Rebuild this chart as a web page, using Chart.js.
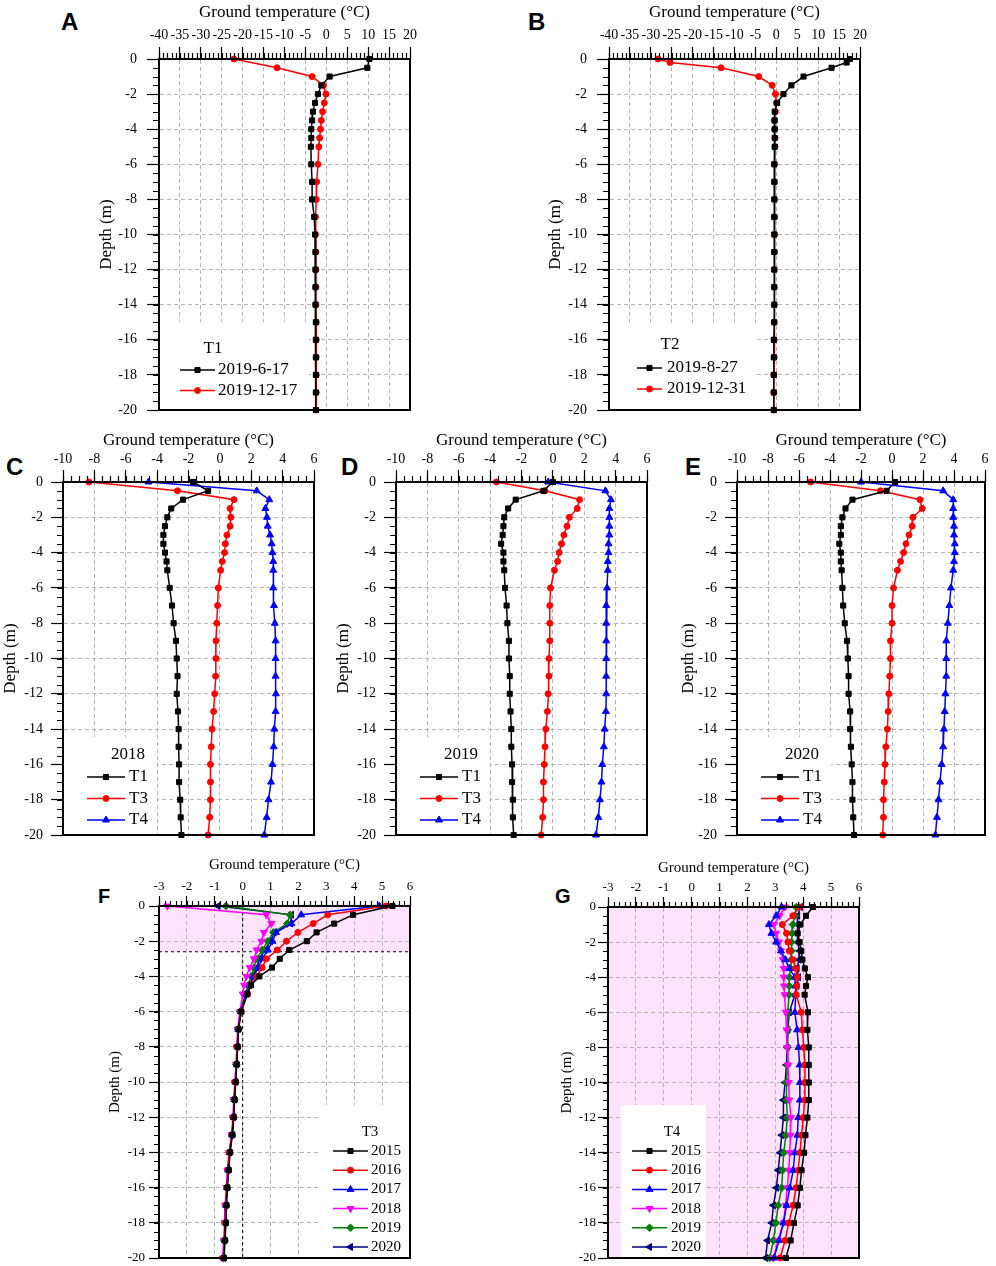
<!DOCTYPE html>
<html>
<head>
<meta charset="utf-8">
<script src="https://cdn.jsdelivr.net/npm/chart.js@4.4.1/dist/chart.umd.min.js"></script>
<style>
  body { margin: 0; background: #fff; }
  #fig { position: relative; width: 996px; height: 1266px; overflow: hidden; }
  #fig canvas { position: absolute; }
  .tag { position: absolute; font-family: "Liberation Sans", Arial, sans-serif; font-weight: bold; color: #000; }
</style>
</head>
<body>
<div id="fig">
  <div class="tag" style="left:61px;top:10px;font-size:24px;line-height:24px">A</div>
  <div class="tag" style="left:528px;top:10px;font-size:24px;line-height:24px">B</div>
  <div class="tag" style="left:6px;top:455px;font-size:24px;line-height:24px">C</div>
  <div class="tag" style="left:341px;top:455px;font-size:24px;line-height:24px">D</div>
  <div class="tag" style="left:685px;top:455px;font-size:24px;line-height:24px">E</div>
  <div class="tag" style="left:98px;top:886px;font-size:20px;line-height:20px">F</div>
  <div class="tag" style="left:555px;top:886px;font-size:20px;line-height:20px">G</div>
</div>
<script>
// depth of each sensor (m)
const depth = [0, -0.5, -1, -1.5, -2, -2.5, -3, -3.5, -4, -4.5, -5, -6, -7, -8, -9, -10, -11, -12, -13, -14, -15, -16, -17, -18, -19, -20];
const depthB = [0, -0.2, -0.5, -1, -1.5, -2, -2.5, -3, -3.5, -4, -4.5, -5, -6, -7, -8, -9, -10, -11, -12, -13, -14, -15, -16, -17, -18, -19, -20];

// x axis: [min, max, label step, minor step]
const rangeAB = [-40, 20, 5, 1];
const rangeCDE = [-10, 6, 2, 0.5];
const rangeFG = [-3, 6, 1, 0.2];
const rangeDepth = [-20, 0, 2, 0.5];

// A: T1
const datesA = ['2019-6-17', '2019-12-17'];
const aJun17 = [10.3, 9.8, 0.8, -1.2, -2.0, -2.7, -3.2, -3.4, -3.6, -3.6, -3.7, -3.6, -3.4, -3.4, -2.9, -2.7, -2.6, -2.6, -2.6, -2.6, -2.5, -2.5, -2.5, -2.5, -2.5, -2.5];
const aDec17 = [-22.1, -11.8, -3.4, -0.7, -0.1, -0.5, -0.9, -1.2, -1.4, -1.6, -1.8, -2.0, -2.3, -2.4, -2.6, -2.6, -2.5, -2.5, -2.5, -2.5, -2.4, -2.4, -2.4, -2.4, -2.4, -2.4];

// B: T2
const datesB = ['2019-8-27', '2019-12-31'];
const bAug27 = [17.6, 16.8, 13.2, 6.5, 3.6, 1.7, 0.2, -0.4, -0.4, -0.4, -0.4, -0.4, -0.5, -0.5, -0.5, -0.5, -0.5, -0.5, -0.5, -0.5, -0.5, -0.5, -0.6, -0.6, -0.6, -0.6, -0.6];
const bDec31 = [-28.3, -25.4, -13.2, -4.2, -1.0, -0.2, 0.0, -0.2, -0.5, -0.4, -0.3, -0.3, -0.4, -0.4, -0.4, -0.4, -0.4, -0.4, -0.5, -0.5, -0.5, -0.5, -0.5, -0.5, -0.6, -0.6, -0.6];

// C, D, E: boreholes by year
const wells = ['T1', 'T3', 'T4'];
const c18T1 = [-1.7, -0.75, -2.35, -3.1, -3.35, -3.5, -3.6, -3.6, -3.5, -3.4, -3.35, -3.2, -3.05, -2.95, -2.8, -2.75, -2.7, -2.75, -2.67, -2.63, -2.63, -2.6, -2.6, -2.53, -2.5, -2.45];
const c18T3 = [-8.35, -2.7, 0.9, 0.65, 0.7, 0.65, 0.45, 0.35, 0.3, 0.15, 0.05, -0.1, -0.15, -0.2, -0.25, -0.25, -0.27, -0.33, -0.4, -0.5, -0.55, -0.6, -0.6, -0.6, -0.65, -0.75];
const c18T4 = [-4.55, 2.35, 3.15, 2.9, 3.0, 3.05, 3.2, 3.3, 3.35, 3.4, 3.4, 3.4, 3.45, 3.5, 3.55, 3.55, 3.55, 3.57, 3.55, 3.47, 3.43, 3.35, 3.26, 3.1, 2.98, 2.83];
const d19T1 = [0.0, -0.6, -2.37, -2.85, -3.1, -3.15, -3.2, -3.3, -3.15, -3.15, -3.1, -3.05, -2.95, -2.9, -2.8, -2.8, -2.75, -2.75, -2.7, -2.65, -2.65, -2.6, -2.6, -2.55, -2.55, -2.5];
const d19T3 = [-3.6, -0.5, 1.7, 1.55, 1.05, 0.9, 0.7, 0.55, 0.4, 0.3, 0.1, -0.15, -0.2, -0.2, -0.2, -0.25, -0.25, -0.3, -0.35, -0.45, -0.5, -0.55, -0.6, -0.6, -0.65, -0.75];
const d19T4 = [-0.3, 3.35, 3.7, 3.6, 3.6, 3.6, 3.6, 3.55, 3.55, 3.5, 3.5, 3.45, 3.4, 3.4, 3.4, 3.4, 3.4, 3.4, 3.38, 3.3, 3.25, 3.15, 3.1, 3.0, 2.9, 2.75];
const e20T1 = [0.2, -0.35, -2.55, -3.0, -3.2, -3.3, -3.3, -3.4, -3.3, -3.3, -3.25, -3.2, -3.15, -3.05, -2.9, -2.85, -2.8, -2.8, -2.7, -2.7, -2.65, -2.6, -2.55, -2.55, -2.5, -2.45];
const e20T3 = [-5.25, -0.75, 1.8, 1.95, 1.35, 1.3, 1.1, 0.9, 0.75, 0.55, 0.35, 0.1, 0.0, 0.0, -0.1, -0.1, -0.15, -0.2, -0.25, -0.3, -0.4, -0.45, -0.5, -0.55, -0.55, -0.6];
const e20T4 = [-2.0, 3.3, 3.95, 3.95, 3.95, 4.0, 4.0, 4.05, 4.05, 4.0, 3.95, 3.8, 3.7, 3.6, 3.5, 3.5, 3.5, 3.45, 3.4, 3.35, 3.3, 3.2, 3.1, 3.0, 2.9, 2.8];

// F: T3, G: T4, yearly profiles
const years = ['2015', '2016', '2017', '2018', '2019', '2020'];
const activeLayerT3 = -2.6;
const t3y2015 = [5.37, 3.96, 3.28, 2.65, 2.3, 1.67, 1.33, 1.05, 0.6, 0.3, 0.17, -0.05, -0.15, -0.18, -0.21, -0.25, -0.29, -0.32, -0.37, -0.45, -0.5, -0.55, -0.58, -0.6, -0.63, -0.67];
const t3y2016 = [5.14, 3.05, 2.53, 1.98, 1.57, 1.24, 0.85, 0.7, 0.5, 0.28, 0.17, -0.06, -0.15, -0.19, -0.22, -0.26, -0.3, -0.33, -0.38, -0.47, -0.52, -0.56, -0.6, -0.62, -0.65, -0.69];
const t3y2017 = [4.9, 2.1, 1.75, 1.2, 1.07, 0.9, 0.7, 0.55, 0.4, 0.25, 0.13, -0.07, -0.16, -0.19, -0.22, -0.26, -0.3, -0.33, -0.38, -0.47, -0.52, -0.56, -0.6, -0.62, -0.65, -0.69];
const t3y2018 = [-2.7, 0.85, 1.03, 0.76, 0.67, 0.5, 0.4, 0.25, 0.13, 0.05, 0.0, -0.1, -0.18, -0.21, -0.24, -0.28, -0.32, -0.35, -0.4, -0.49, -0.55, -0.59, -0.63, -0.65, -0.68, -0.72];
const t3y2019 = [-0.6, 1.7, 1.6, 1.1, 0.9, 0.7, 0.5, 0.4, 0.3, 0.2, 0.1, -0.08, -0.16, -0.19, -0.22, -0.26, -0.3, -0.33, -0.38, -0.47, -0.52, -0.56, -0.6, -0.62, -0.65, -0.69];
const t3y2020 = [-0.88, 1.75, 1.72, 1.13, 1.0, 0.8, 0.6, 0.5, 0.37, 0.25, 0.13, -0.08, -0.16, -0.19, -0.22, -0.26, -0.3, -0.33, -0.38, -0.47, -0.52, -0.56, -0.6, -0.62, -0.65, -0.69];
const t4y2015 = [4.35, 4.1, 3.9, 3.8, 3.87, 3.93, 3.97, 4.06, 4.17, 4.1, 4.05, 4.17, 4.15, 4.2, 4.2, 4.2, 4.2, 4.15, 4.08, 4.03, 3.94, 3.88, 3.8, 3.67, 3.55, 3.38];
const t4y2016 = [3.87, 3.63, 3.25, 3.4, 3.45, 3.5, 3.63, 3.73, 3.79, 3.77, 3.75, 3.93, 3.97, 4.02, 4.06, 4.06, 4.06, 4.0, 3.94, 3.88, 3.82, 3.74, 3.64, 3.48, 3.35, 3.17];
const t4y2017 = [3.22, 3.03, 2.77, 2.86, 3.03, 3.2, 3.36, 3.5, 3.7, 3.72, 3.73, 3.7, 3.78, 3.83, 3.87, 3.88, 3.88, 3.82, 3.79, 3.7, 3.64, 3.52, 3.4, 3.29, 3.13, 2.95];
const t4y2018 = [3.35, 3.15, 2.95, 3.03, 3.13, 3.2, 3.27, 3.3, 3.3, 3.31, 3.33, 3.37, 3.4, 3.42, 3.45, 3.48, 3.5, 3.56, 3.54, 3.52, 3.48, 3.43, 3.37, 3.29, 3.1, 2.93];
const t4y2019 = [3.75, 3.7, 3.63, 3.6, 3.58, 3.58, 3.58, 3.55, 3.5, 3.5, 3.49, 3.45, 3.45, 3.44, 3.44, 3.4, 3.4, 3.43, 3.38, 3.3, 3.26, 3.23, 3.1, 3.02, 2.93, 2.8];
const t4y2020 = [3.9, 3.8, 3.8, 3.78, 3.8, 3.87, 3.85, 3.78, 3.83, 3.77, 3.7, 3.5, 3.45, 3.42, 3.4, 3.35, 3.29, 3.29, 3.23, 3.17, 3.1, 3.04, 2.93, 2.87, 2.72, 2.65];

// ---------------------------------------------------------------

const serif = "'Liberation Serif', 'Times New Roman', serif";
const marks = [
  { color: '#000000', pointStyle: 'rect', radius: 3.6, rotation: 0 },
  { color: '#ff0000', pointStyle: 'circle', radius: 3, rotation: 0 },
  { color: '#0000ff', pointStyle: 'triangle', radius: 4, rotation: 0 },
  { color: '#ff00ff', pointStyle: 'triangle', radius: 4, rotation: 180 },
  { color: '#008000', pointStyle: 'rectRot', radius: 3.8, rotation: 0 },
  { color: '#000080', pointStyle: 'triangle', radius: 4, rotation: -90 }
];
const pink = '#ffe2fd';
const fig = document.getElementById('fig');

function deco(p) {
  return {
    id: 'deco',
    beforeDraw(chart) {
      const { ctx, chartArea: a, scales: { y } } = chart;
      ctx.save();
      (p.bands || []).forEach(b => {
        const y0 = y.getPixelForValue(b[0]), y1 = y.getPixelForValue(b[1]);
        ctx.fillStyle = pink;
        ctx.fillRect(a.left, y0, a.right - a.left, y1 - y0);
      });
      ctx.restore();
    },
    beforeDatasetsDraw(chart) {
      const { ctx, chartArea: a, scales: { x, y } } = chart;
      ctx.save();
      ctx.strokeStyle = '#000';
      ctx.lineWidth = 1;
      ctx.setLineDash([3, 3]);
      if (p.refY !== undefined) {
        const py = y.getPixelForValue(p.refY);
        ctx.beginPath(); ctx.moveTo(a.left, py); ctx.lineTo(a.right, py); ctx.stroke();
      }
      if (p.refX !== undefined) {
        const px = x.getPixelForValue(p.refX);
        ctx.beginPath(); ctx.moveTo(px, a.top); ctx.lineTo(px, a.bottom); ctx.stroke();
      }
      const bx = p.legend.box;
      ctx.fillStyle = '#fff';
      ctx.fillRect(a.left + bx[0], a.bottom + bx[2], bx[1] - bx[0], -bx[2]);
      ctx.restore();
    },
    afterDatasetsDraw(chart) {
      const { ctx, chartArea: a, scales: { x, y } } = chart;
      ctx.save();
      // minor ticks
      ctx.strokeStyle = '#000';
      ctx.lineWidth = 1.2;
      const nx = Math.round((p.xr[1] - p.xr[0]) / p.xr[3]);
      ctx.beginPath();
      for (let i = 0; i <= nx; i++) {
        const px = Math.round(x.getPixelForValue(p.xr[0] + i * p.xr[3])) + 0.5;
        ctx.moveTo(px, a.top); ctx.lineTo(px, a.top - p.minorLen);
      }
      const ny = Math.round((rangeDepth[1] - rangeDepth[0]) / rangeDepth[3]);
      for (let i = 0; i <= ny; i++) {
        const py = Math.round(y.getPixelForValue(rangeDepth[0] + i * rangeDepth[3])) + 0.5;
        ctx.moveTo(a.left, py); ctx.lineTo(a.left - p.minorLen, py);
      }
      ctx.stroke();
      // frame
      ctx.lineWidth = 2;
      ctx.strokeRect(a.left, a.top, a.right - a.left, a.bottom - a.top);
      // legend
      const lg = p.legend;
      ctx.font = lg.size + 'px ' + serif;
      ctx.fillStyle = '#000';
      ctx.textBaseline = 'middle';
      ctx.textAlign = 'center';
      ctx.fillText(lg.title, a.left + lg.tx, a.bottom + lg.ty);
      chart.data.datasets.forEach((ds, i) => {
        const ly = a.bottom + lg.row0 + i * lg.rowH;
        ctx.strokeStyle = ds.borderColor;
        ctx.lineWidth = ds.borderWidth;
        ctx.beginPath();
        ctx.moveTo(a.left + lg.line[0], ly); ctx.lineTo(a.left + lg.line[1], ly);
        ctx.stroke();
        ctx.fillStyle = ds.backgroundColor;
        ctx.lineWidth = 1;
        Chart.helpers.drawPoint(ctx, { pointStyle: ds.pointStyle, rotation: ds.pointRotation, radius: ds.pointRadius, borderWidth: 1 },
          a.left + (lg.line[0] + lg.line[1]) / 2, ly);
        ctx.fillStyle = '#000';
        ctx.textAlign = 'left';
        ctx.fillText(ds.label, a.left + lg.textX, ly);
      });
      ctx.restore();
    }
  };
}

function panel(p) {
  const [L, T, R, B] = p.plot;
  const padR = 8, padB = 6;
  const w = p.wy + (R - L) + padR, h = p.hx + (B - T) + padB;
  const cv = document.createElement('canvas');
  cv.width = w; cv.height = h;
  cv.style.left = (L - p.wy) + 'px';
  cv.style.top = (T - p.hx) + 'px';
  cv.style.width = w + 'px';
  cv.style.height = h + 'px';
  fig.appendChild(cv);

  const datasets = p.series.map((s, i) => {
    const m = marks[s.mark];
    return {
      label: s.label,
      data: s.temps.map((t, k) => ({ x: t, y: s.depths[k] })),
      showLine: true,
      borderColor: m.color,
      backgroundColor: m.color,
      borderWidth: 1.5,
      pointStyle: m.pointStyle,
      pointRadius: m.radius,
      pointRotation: m.rotation,
      pointBorderWidth: 1,
      clip: false
    };
  });

  const axisCommon = (size, pad, tl) => ({
    type: 'linear',
    ticks: { autoSkip: false, maxRotation: 0, padding: pad, color: '#000', font: { family: serif, size: size }, callback: v => String(v) },
    grid: { color: '#b5b5b5', lineWidth: 1, tickLength: tl, tickColor: '#000', tickWidth: 1.2 },
    border: { display: true, color: '#000', width: 2, dash: [4, 3] }
  });

  // fixed axis boxes, and no extra room for overhanging end labels
  const xs = axisCommon(p.tickFont, p.xTickPad, p.tickLen);
  Object.assign(xs, { position: 'top', min: p.xr[0], max: p.xr[1] });
  xs.ticks.stepSize = p.xr[2];
  xs.title = { display: true, text: 'Ground temperature (°C)', color: '#000', font: { family: serif, size: p.titleFont }, padding: { top: p.xTitlePad, bottom: 0 } };
  xs.afterFit = s => { s.height = p.hx; s.paddingLeft = 0; s.paddingRight = 0; s.paddingTop = 0; s.paddingBottom = 0; };

  const ys = axisCommon(p.tickFont, p.yTickPad, p.tickLen);
  Object.assign(ys, { position: 'left', min: rangeDepth[0], max: rangeDepth[1] });
  ys.ticks.stepSize = rangeDepth[2];
  ys.title = { display: true, text: 'Depth (m)', color: '#000', font: { family: serif, size: p.titleFont }, padding: { top: 0, bottom: 0 } };
  ys.afterFit = s => { s.width = p.wy; s.paddingLeft = 0; s.paddingRight = 0; s.paddingTop = 0; s.paddingBottom = 0; };

  new Chart(cv, {
    type: 'scatter',
    data: { datasets },
    options: {
      responsive: false,
      animation: false,
      events: [],
      layout: { padding: { left: 0, top: 0, right: padR, bottom: padB } },
      scales: { x: xs, y: ys },
      plugins: { legend: { display: false }, tooltip: { enabled: false } }
    },
    plugins: [deco(p)]
  });
}

const bigAxes = { tickFont: 14, titleFont: 17, tickLen: 12, minorLen: 6 };
const smallAxes = { tickFont: 13, titleFont: 15, tickLen: 10, minorLen: 5 };

const cdeLegend = t => ({ title: t, size: 17, tx: 65, ty: -80, row0: -58, rowH: 21.5, line: [24, 62], textX: 66, box: [0, 94, -98] });
const triple = (a, b, c) => [
  { label: wells[0], temps: a, depths: depth, mark: 0 },
  { label: wells[1], temps: b, depths: depth, mark: 1 },
  { label: wells[2], temps: c, depths: depth, mark: 2 }
];
const yearly = list => list.map((arr, i) => ({ label: years[i], temps: arr, depths: depth, mark: i }));

[
  Object.assign({ plot: [159, 59, 410, 410], wy: 63, hx: 58, xr: rangeAB, xTitlePad: 1, xTickPad: 3, yTickPad: 10,
    series: [{ label: datesA[0], temps: aJun17, depths: depth, mark: 0 }, { label: datesA[1], temps: aDec17, depths: depth, mark: 1 }],
    legend: { title: 'T1', size: 17, tx: 54, ty: -61, row0: -40, rowH: 20.5, line: [21, 56], textX: 59, box: [0, 150, -88] } }, bigAxes),
  Object.assign({ plot: [609, 59, 860, 410], wy: 64, hx: 58, xr: rangeAB, xTitlePad: 1, xTickPad: 3, yTickPad: 10,
    series: [{ label: datesB[0], temps: bAug27, depths: depthB, mark: 0 }, { label: datesB[1], temps: bDec31, depths: depthB, mark: 1 }],
    legend: { title: 'T2', size: 17, tx: 61, ty: -65, row0: -42, rowH: 21, line: [28, 53], textX: 58, box: [0, 148, -87] } }, bigAxes),
  Object.assign({ plot: [63, 482, 314, 835], wy: 63, hx: 56, xr: rangeCDE, xTitlePad: 4, xTickPad: 2, yTickPad: 8,
    series: triple(c18T1, c18T3, c18T4), legend: cdeLegend('2018') }, bigAxes),
  Object.assign({ plot: [396, 482, 647, 835], wy: 63, hx: 56, xr: rangeCDE, xTitlePad: 4, xTickPad: 2, yTickPad: 8,
    series: triple(d19T1, d19T3, d19T4), legend: cdeLegend('2019') }, bigAxes),
  Object.assign({ plot: [737, 482, 985, 835], wy: 59, hx: 56, xr: rangeCDE, xTitlePad: 4, xTickPad: 2, yTickPad: 8,
    series: triple(e20T1, e20T3, e20T4), legend: cdeLegend('2020') }, bigAxes),
  Object.assign({ plot: [159, 906, 410, 1258], wy: 53, hx: 56, xr: rangeFG, xTitlePad: 6, xTickPad: 2, yTickPad: 4,
    series: yearly([t3y2015, t3y2016, t3y2017, t3y2018, t3y2019, t3y2020]),
    bands: [[0, activeLayerT3]], refY: activeLayerT3, refX: 0,
    legend: { title: 'T3', size: 15, tx: 211, ty: -126, row0: -107, rowH: 19.2, line: [174, 209], textX: 212, box: [161, 251, -153] } }, smallAxes),
  Object.assign({ plot: [608, 907, 859, 1258], wy: 50, hx: 56, xr: rangeFG, xTitlePad: 8, xTickPad: 2, yTickPad: 2,
    series: yearly([t4y2015, t4y2016, t4y2017, t4y2018, t4y2019, t4y2020]),
    bands: [[rangeDepth[1], rangeDepth[0]]],
    legend: { title: 'T4', size: 15, tx: 64, ty: -126, row0: -107, rowH: 19.2, line: [24, 59], textX: 63, box: [12.7, 98, -153] } }, smallAxes)
].forEach(panel);
</script>
</body>
</html>
